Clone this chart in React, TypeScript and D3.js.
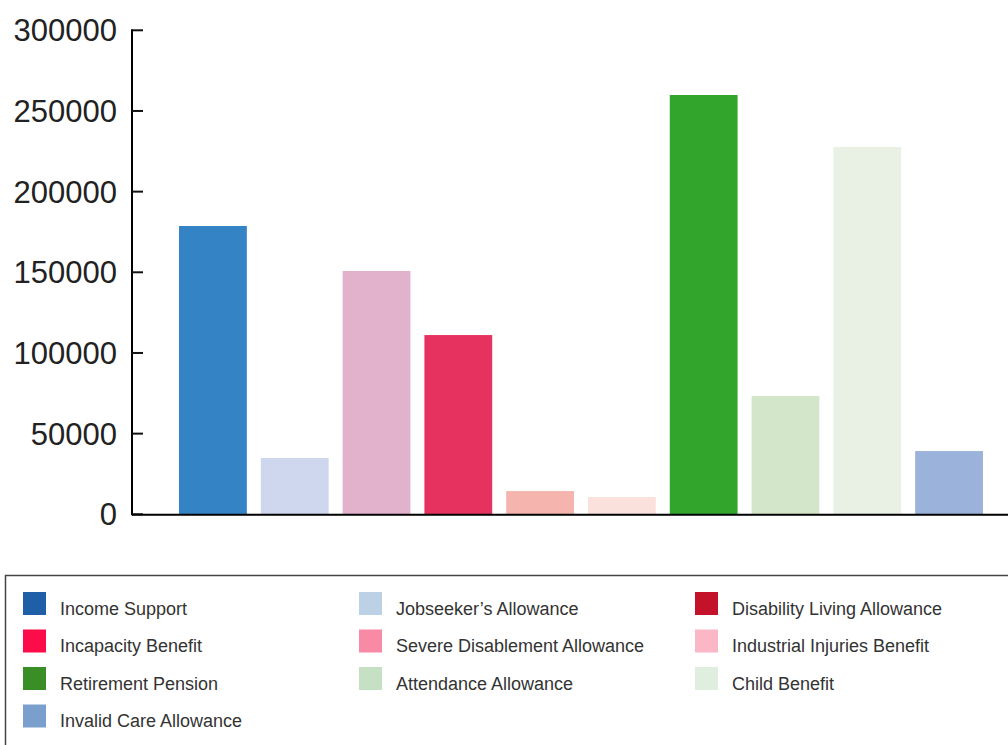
import React from "react";
import * as d3 from "d3";

// Benefit categories, in bar order
const categories = [
  "Income Support",
  "Jobseeker\u2019s Allowance",
  "Disability Living Allowance",
  "Incapacity Benefit",
  "Severe Disablement Allowance",
  "Industrial Injuries Benefit",
  "Retirement Pension",
  "Attendance Allowance",
  "Child Benefit",
  "Invalid Care Allowance",
];

// Claimant counts per category
const values = [178700, 34900, 150800, 111100, 14400, 10700, 259900, 73300, 227700, 39200];

// Bar fills
const barColors = [
  "#3383c5", "#cfd7ee", "#e2b1cc", "#e5325f", "#f5b4ad",
  "#fbe1dc", "#32a52d", "#d4e6ca", "#e9f0e4", "#9bb2da",
];

// Legend swatch fills
const legendColors = [
  "#1f5fa8", "#bcd1e6", "#c31229", "#fc0d4a", "#f98aa5",
  "#fbb7c6", "#398f26", "#c5e0c3", "#e0eedf", "#7b9fcc",
];

const yTicks = [0, 50000, 100000, 150000, 200000, 250000, 300000];

const W = 1008;
const H = 745;
const FONT = "'Liberation Sans', Arial, Helvetica, sans-serif";

export default function App() {
  const axisX = 132;
  const y = d3.scaleLinear().domain([0, 300000]).range([514.3, 30.3]);
  const x = d3
    .scaleBand<string>()
    .domain(categories)
    .range([axisX, 1030])
    .paddingInner(0.171)
    .paddingOuter(0.575);

  const legendX0 = 23;
  const legendY0 = 592;
  const colStep = 336;
  const rowStep = 37.5;
  const sw = 23;

  return (
    <svg
      width={W}
      height={H}
      style={{ position: "absolute", left: 0, top: 0, background: "#fff" }}
      fontFamily={FONT}
    >
      {/* bars */}
      {categories.map((c, i) => (
        <rect
          key={c}
          x={x(c)}
          y={y(values[i])}
          width={x.bandwidth()}
          height={y(0) - y(values[i])}
          fill={barColors[i]}
        />
      ))}

      {/* y axis */}
      <line x1={axisX} x2={axisX} y1={y(300000) - 1} y2={y(0) + 1} stroke="#000" strokeWidth={2} />
      {yTicks.map((t) => (
        <g key={t}>
          <line x1={axisX} x2={axisX + 11} y1={y(t)} y2={y(t)} stroke="#111" strokeWidth={2} />
          <text
            x={axisX - 15}
            y={y(t)}
            dy="0.36em"
            textAnchor="end"
            fontSize={31}
            fill="#222"
          >
            {t}
          </text>
        </g>
      ))}

      {/* x axis baseline */}
      <line x1={axisX} x2={W} y1={y(0) + 0.5} y2={y(0) + 0.5} stroke="#000" strokeWidth={2} />

      {/* legend */}
      <rect x={5.5} y={575.5} width={1020} height={200} fill="none" stroke="#444" strokeWidth={1.5} />
      {categories.map((c, i) => {
        const col = i % 3;
        const row = Math.floor(i / 3);
        const lx = legendX0 + col * colStep;
        const ly = legendY0 + row * rowStep;
        return (
          <g key={"lg" + c}>
            <rect x={lx} y={ly} width={sw} height={sw} fill={legendColors[i]} />
            <text x={lx + 37} y={ly + 22.5} fontSize={18} fill="#333">
              {c}
            </text>
          </g>
        );
      })}
    </svg>
  );
}
